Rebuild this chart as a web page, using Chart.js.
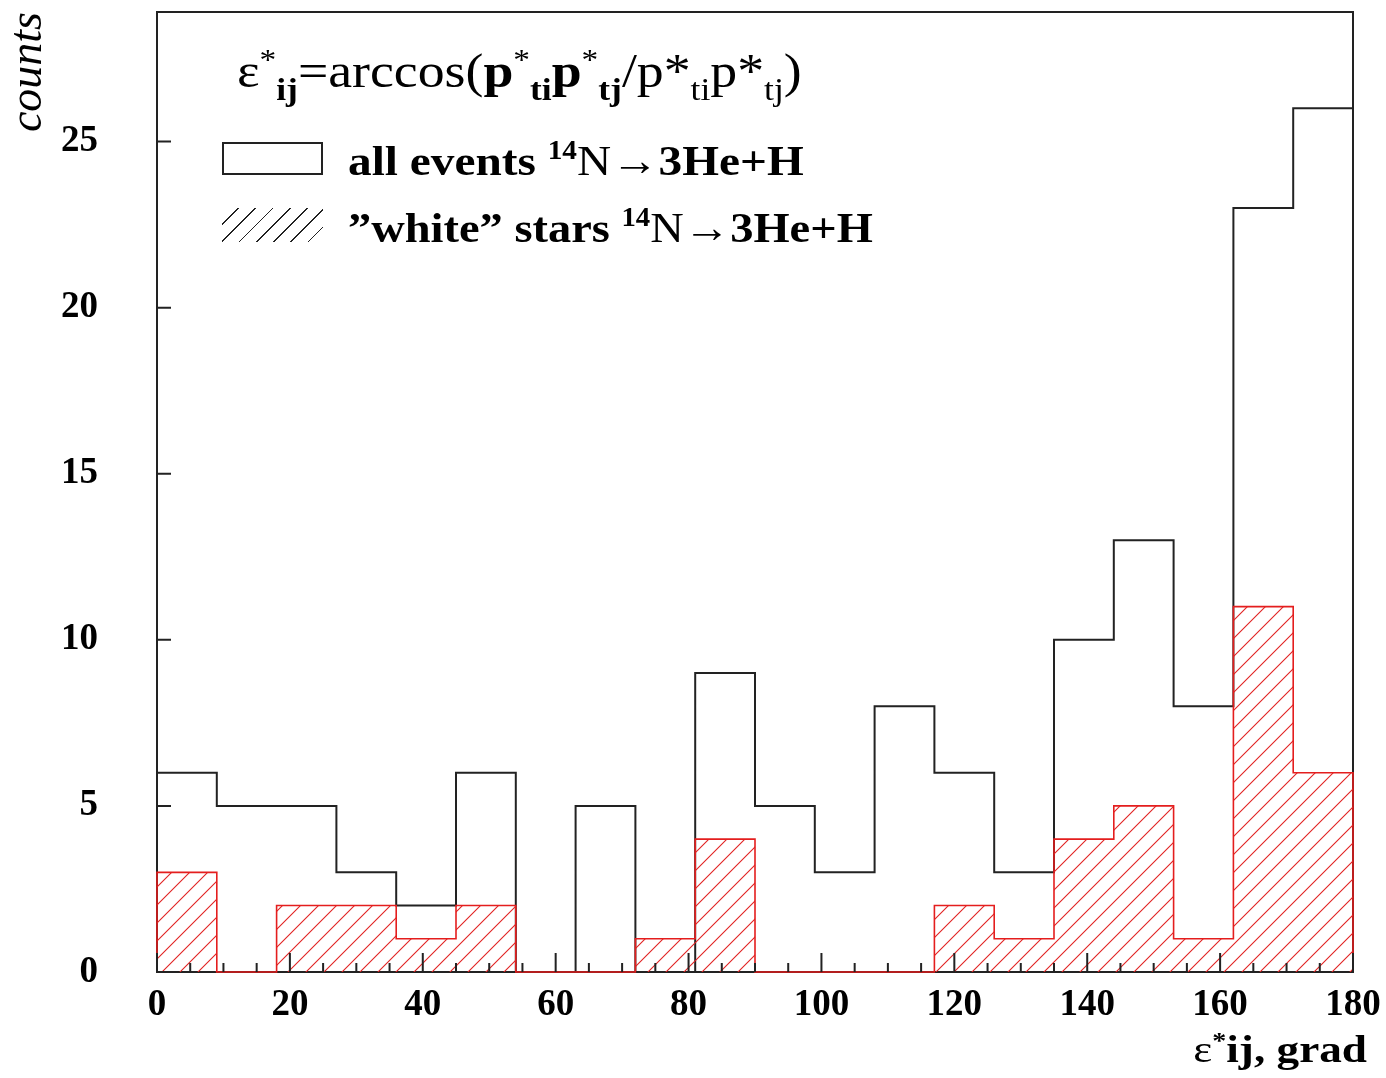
<!DOCTYPE html>
<html>
<head>
<meta charset="utf-8">
<script src="https://cdn.jsdelivr.net/npm/chart.js@4.4.1/dist/chart.umd.min.js"></script>
<style>
  body { margin: 0; background: #fff; }
  #wrap { position: relative; width: 1386px; height: 1078px; overflow: hidden; }
  #grafica { position: absolute; left: 0; top: 0; }
  .txt { position: absolute; font-family: "Liberation Serif", "Times New Roman", serif; color: #000; white-space: nowrap; line-height: 1; transform-origin: left top; }
  .b { font-weight: bold; }
  .n { font-weight: normal; }
  sup { font-size: 62%; position: relative; top: -0.6em; vertical-align: baseline; line-height: 0; }
  sub { font-size: 66%; position: relative; top: 0.4em; vertical-align: baseline; line-height: 0; }
  .box1 { position: absolute; left: 222px; top: 142px; width: 97px; height: 29px; border: 2px solid #222; }
  .box2 { position: absolute; left: 222px; top: 208px; width: 101px; height: 34px;
    background: repeating-linear-gradient(135deg, transparent 0 11px, #222 11px 12.2px); }
</style>
</head>
<body>
<div id="wrap">
  <canvas id="grafica" width="1386" height="1078"></canvas>
  <div class="txt" style="left:237px;top:47px;font-size:48px;transform:scaleX(1.12)">ε<sup>*</sup><sub class="b">ij</sub>=arccos(<b>p</b><sup>*</sup><sub class="b">ti</sub><b>p</b><sup>*</sup><sub class="b">tj</sub>/p*<sub>ti</sub>p*<sub>tj</sub>)</div>
  <div class="box1"></div>
  <div class="box2"></div>
  <div class="txt b" style="left:348px;top:139px;font-size:43px;transform:scaleX(1.1)">all events <sup>14</sup><span class="n">N→</span>3He+H</div>
  <div class="txt b" style="left:348px;top:206px;font-size:43px;transform:scaleX(1.08)">”white” stars <sup>14</sup><span class="n">N→</span>3He+H</div>
  <div class="txt b" style="right:19px;top:1030px;font-size:38px;transform-origin:right top;transform:scaleX(1.19)"><span class="n">ε</span><sup>*</sup>ij, grad</div>
</div>
<script>
//Границы бинов и значения гистограмм
const binEdges = [0, 9, 18, 27, 36, 45, 54, 63, 72, 81, 90, 99, 108, 117, 126, 135, 144, 153, 162, 171, 180];
const allEvents = [6, 5, 5, 3, 2, 6, 0, 5, 0, 9, 5, 3, 8, 6, 3, 10, 13, 8, 23, 26];
const whiteStars = [3, 0, 2, 2, 1, 2, 0, 0, 1, 4, 0, 0, 0, 2, 1, 4, 5, 1, 11, 6];

//Подписи осей
const xTicks = [0, 20, 40, 60, 80, 100, 120, 140, 160, 180];
const yTicks = [0, 5, 10, 15, 20, 25];

//Точки ступенчатой линии: подъём с нуля в начале и спуск в конце
function stepPoints(values) {
  const pts = [{ x: binEdges[0], y: 0 }];
  values.forEach((v, i) => pts.push({ x: binEdges[i], y: v }));
  const last = binEdges[values.length];
  pts.push({ x: last, y: values[values.length - 1] });
  pts.push({ x: last, y: 0 });
  return pts;
}

//Штриховка для "white" stars
function makeHatch(color) {
  const c = document.createElement('canvas');
  c.width = 18; c.height = 18;
  const g = c.getContext('2d');
  g.strokeStyle = color;
  g.lineWidth = 1.1;
  g.beginPath();
  g.moveTo(0, 18); g.lineTo(18, 0);
  g.moveTo(-2, 2); g.lineTo(2, -2);
  g.moveTo(16, 20); g.lineTo(20, 16);
  g.stroke();
  return g.createPattern(c, 'repeat');
}

//Убираем автоматические отступы под подписи, чтобы область графика совпала
function noPadding(scale) {
  scale.paddingTop = 0;
  scale.paddingBottom = 0;
  scale.paddingLeft = 0;
  scale.paddingRight = 0;
}

//Рамка и засечки как в ROOT
const frame = {
  id: 'frame',
  beforeDatasetsDraw(chart) {
    const { ctx, chartArea: { left, right, top, bottom } } = chart;
    ctx.save();
    ctx.strokeStyle = '#222';
    ctx.lineWidth = 2;
    ctx.strokeRect(left, top, right - left, bottom - top);
    ctx.restore();
  },
  afterDatasetsDraw(chart) {
    const { ctx, chartArea: { left, bottom }, scales: { x, y } } = chart;
    ctx.save();
    ctx.strokeStyle = '#222';
    ctx.lineWidth = 2;
    ctx.beginPath();
    for (let v = x.min; v <= x.max; v += 5) {
      const px = x.getPixelForValue(v);
      const len = v % 20 === 0 ? 19 : 9;
      ctx.moveTo(px, bottom);
      ctx.lineTo(px, bottom - len);
    }
    yTicks.forEach(v => {
      const py = y.getPixelForValue(v);
      ctx.moveTo(left, py);
      ctx.lineTo(left + 14, py);
    });
    ctx.stroke();
    ctx.restore();
  }
};

const grafica = document.getElementById('grafica');
const tickFont = { family: "'Liberation Serif', 'Times New Roman', serif", size: 37, weight: 'bold' };

const myChart = new Chart(grafica, {
  type: 'line',
  data: {
    datasets: [
      {
        label: '"white" stars',
        data: stepPoints(whiteStars),
        stepped: true,
        borderColor: 'rgb(228, 30, 30)',
        borderWidth: 1.6,
        backgroundColor: makeHatch('rgb(225, 35, 35)'),
        fill: 'origin',
        pointRadius: 0,
        clip: false,
        order: 0,
      },
      {
        label: 'all events',
        data: stepPoints(allEvents),
        stepped: true,
        borderColor: '#222',
        borderWidth: 2,
        fill: false,
        pointRadius: 0,
        clip: false,
        order: 1,
      }
    ]
  },
  options: {
    responsive: false,
    animation: false,
    layout: { padding: { left: 0, right: 33, top: 12, bottom: 0 } },
    plugins: {
      legend: { display: false },
      tooltip: { enabled: false }
    },
    scales: {
      x: {
        type: 'linear',
        min: 0,
        max: 180,
        afterBuildTicks: (scale) => { scale.ticks = xTicks.map(v => ({ value: v })); },
        afterFit: (scale) => { scale.height = 106; noPadding(scale); },
        grid: { display: false, drawTicks: false },
        border: { display: false },
        ticks: { font: tickFont, color: '#000', padding: 11, maxRotation: 0, autoSkip: false }
      },
      y: {
        min: 0,
        max: 28.9,
        afterBuildTicks: (scale) => { scale.ticks = yTicks.map(v => ({ value: v })); },
        afterFit: (scale) => { scale.width = 157; noPadding(scale); },
        grid: { display: false, drawTicks: false },
        border: { display: false },
        ticks: { font: tickFont, color: '#000', padding: 59 },
        title: {
          display: true,
          text: 'counts',
          align: 'end',
          color: '#000',
          padding: { top: 1, bottom: 0 },
          font: { family: "'Liberation Serif', 'Times New Roman', serif", size: 46, style: 'italic' }
        }
      }
    }
  },
  plugins: [frame]
});
</script>
</body>
</html>
